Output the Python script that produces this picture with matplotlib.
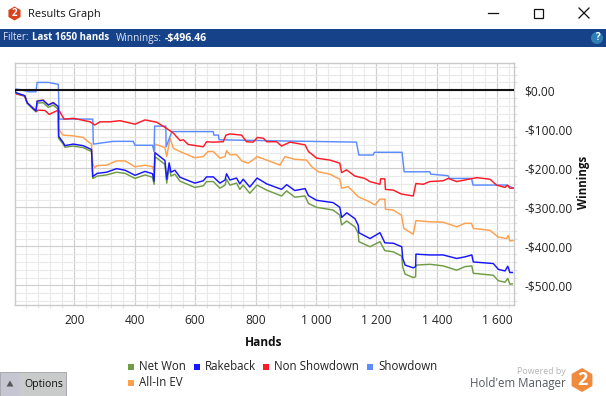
import matplotlib
matplotlib.use("Agg")
import matplotlib.pyplot as plt
import numpy as np
from matplotlib.patches import Rectangle, RegularPolygon, Circle
from matplotlib.ticker import MultipleLocator, FuncFormatter

net_x = [1,9,36,44,64,73,77,97,114,130,147,148,163,169,196,229,257,261,276,307,340,368,401,434,459,464,467,500,506,514,520,533,550,599,627,638,660,682,699,704,715,737,748,759,781,805,837,886,903,930,964,975,1002,1057,1079,1085,1102,1129,1140,1142,1179,1212,1228,1256,1284,1287,1295,1322,1330,1331,1377,1421,1466,1493,1516,1521,1587,1604,1626,1635,1642,1650]
net_y = [-1,-8,-15,-33,-49,-55,-33,-32,-44,-38,-49,-123,-138,-146,-143,-147,-157,-226,-220,-217,-210,-213,-226,-217,-223,-241,-170,-190,-238,-197,-220,-215,-233,-249,-245,-234,-234,-251,-243,-228,-243,-238,-254,-243,-264,-243,-256,-271,-258,-274,-271,-290,-300,-307,-320,-345,-335,-350,-367,-388,-401,-388,-411,-414,-425,-452,-471,-480,-478,-448,-446,-450,-461,-452,-450,-469,-474,-488,-492,-482,-497,-496]
rake_y = [-1,-7,-14,-32,-47,-53,-28,-26,-38,-32,-42,-118,-134,-142,-138,-142,-152,-221,-213,-210,-201,-205,-218,-208,-214,-233,-160,-180,-228,-186,-210,-205,-223,-238,-232,-222,-222,-238,-230,-214,-230,-225,-240,-228,-248,-225,-240,-254,-242,-257,-252,-270,-282,-288,-300,-326,-314,-329,-346,-365,-380,-365,-391,-392,-401,-430,-448,-455,-452,-420,-422,-422,-431,-427,-422,-440,-444,-459,-463,-451,-467,-467]

ev_x = [1,9,36,44,64,73,77,97,114,130,147,148,163,197,230,241,257,261,268,276,307,340,368,401,434,459,464,467,500,506,517,528,550,599,627,643,660,682,699,704,715,737,754,776,806,837,881,897,930,969,986,1008,1046,1079,1085,1107,1140,1178,1195,1212,1228,1230,1256,1283,1291,1322,1331,1377,1421,1466,1493,1515,1521,1576,1603,1631,1637,1642,1653]
ev_y = [-1,-8,-14,-32,-47,-53,-27,-24,-37,-31,-42,-100,-115,-117,-121,-129,-138,-189,-198,-193,-192,-181,-181,-196,-192,-196,-209,-138,-147,-170,-123,-149,-157,-173,-170,-157,-157,-174,-170,-155,-165,-165,-181,-187,-170,-179,-192,-170,-177,-179,-196,-209,-215,-228,-251,-247,-273,-286,-294,-279,-279,-305,-307,-320,-354,-369,-334,-337,-338,-350,-341,-341,-354,-359,-376,-380,-372,-386,-385]

nsd_x = [1,9,36,44,64,73,81,103,117,130,147,152,166,197,235,252,268,285,318,351,401,434,473,500,528,550,561,577,627,638,660,693,702,715,754,770,792,806,826,837,870,886,914,964,975,1002,1046,1079,1085,1101,1129,1162,1178,1212,1214,1228,1230,1256,1283,1322,1331,1355,1377,1421,1438,1466,1493,1532,1576,1598,1626,1634,1642,1653]
nsd_y = [-1,-10,-15,-33,-46,-55,-51,-52,-62,-57,-51,-55,-74,-72,-78,-81,-89,-81,-81,-78,-87,-76,-82,-95,-110,-129,-127,-139,-145,-132,-133,-132,-115,-112,-115,-132,-133,-121,-123,-132,-132,-143,-133,-140,-157,-174,-179,-187,-211,-204,-220,-226,-234,-241,-227,-227,-254,-256,-266,-271,-239,-241,-234,-232,-226,-234,-230,-224,-228,-243,-249,-243,-251,-251]

sd_x = [1,7,25,48,73,77,114,147,150,261,263,329,395,401,459,464,466,503,504,523,660,662,677,679,892,1056,1134,1142,1189,1194,1285,1292,1377,1380,1437,1443,1515,1520,1630,1655]
sd_y = [1,3,1,-4,-4,20,20,15,-74,-74,-138,-131,-131,-141,-141,-157,-92,-92,-145,-106,-106,-115,-115,-127,-130,-132,-133,-166,-166,-159,-159,-209,-209,-215,-219,-226,-226,-243,-243,-251]

legend_labels = ["Net Won", "Rakeback", "Non Showdown", "Showdown", "All-In EV"]
colors = ["#6f9c45", "#1616ff", "#ff1a26", "#5a8cff", "#ffa04d"]
y_ticks = [0, -100, -200, -300, -400, -500]
x_ticks = [200, 400, 600, 800, 1000, 1200, 1400, 1600]

plt.rcParams['font.family'] = ['Open Sans', 'DejaVu Sans']
W, H = 606, 396
fig = plt.figure(figsize=(W/100, H/100), dpi=100)
ax = fig.add_axes([14.5/W, 1-305.3/H, 499/W, 242.8/H])
ax.set_xlim(2, 1654)
ax.set_ylim(-551, 71)

ax.xaxis.set_major_locator(MultipleLocator(200))
ax.xaxis.set_minor_locator(MultipleLocator(40))
ax.yaxis.set_major_locator(MultipleLocator(100))
ax.yaxis.set_minor_locator(MultipleLocator(20))
ax.grid(which='major', color='#cfcfcf', lw=0.85)
ax.grid(which='minor', color='#e9e9e9', lw=0.85)
ax.set_axisbelow(True)
for s in ax.spines.values():
    s.set_color('#cacaca'); s.set_linewidth(1.0)
ax.yaxis.tick_right()
ax.tick_params(which='major', length=0)
ax.tick_params(which='minor', length=2.5, color='#e0e0e0', width=0.85)
ax.tick_params(axis='y', which='major', pad=8, labelsize=8.6, labelcolor='#222222')
ax.tick_params(axis='x', which='major', pad=6.5, labelsize=8.6, labelcolor='#222222')
ax.xaxis.set_major_formatter(FuncFormatter(lambda v, p: f"{int(v):,}".replace(",", " ")))
ax.yaxis.set_major_formatter(FuncFormatter(lambda v, p: f"-${abs(v):.2f}" if v < 0 else f"${abs(v):.2f}"))
ax.set_yticks(y_ticks)
ax.set_xticks(x_ticks)
for t in ax.get_yticklabels():
    t.set_va('center_baseline')

lw = 1.05
ax.plot(net_x, net_y, color=colors[0], lw=lw, zorder=3)
ax.plot(net_x, rake_y, color=colors[1], lw=lw, zorder=4)
ax.plot(ev_x, ev_y, color=colors[4], lw=lw, zorder=2.5)
ax.plot(sd_x, sd_y, color=colors[3], lw=lw, zorder=2.6)
ax.plot(nsd_x, nsd_y, color=colors[2], lw=lw, zorder=2.8)
ax.axhline(0, color='#111111', lw=1.5, zorder=5)

# Window chrome, legend and captions in pixel coordinates
ov = fig.add_axes([0, 0, 1, 1], facecolor='none')
ov.set_xlim(0, W); ov.set_ylim(H, 0); ov.axis('off')
ov.add_patch(Rectangle((0, 29), W, 18, color='#16428a', lw=0))
ov.add_patch(RegularPolygon((14.5, 13.5), 6, radius=7, color='#d8431f', lw=0))
ov.text(14.5, 13.7, "2", color='white', fontsize=7, fontweight='bold', ha='center', va='center')
ov.text(28, 14, "Results Graph", fontsize=7.9, color='#111111', va='center')
ov.plot([488, 498], [13, 13], color='#111111', lw=0.9)
ov.add_patch(Rectangle((533.5, 8.5), 9, 9, fill=False, ec='#111111', lw=0.9))
ov.plot([579, 589], [8, 18], color='#111111', lw=0.9)
ov.plot([579, 589], [18, 8], color='#111111', lw=0.9)
ov.add_patch(Circle((597, 38), 6, color='#2f7fb5', lw=0))
ov.text(597, 38, "?", color='white', fontsize=7, fontweight='bold', ha='center', va='center')
for x, s, b, fs in [(3, "Filter:", False, 6.9), (32.5, "Last 1650 hands", True, 7.0),
                    (115.5, "Winnings:", False, 7.2), (164.5, "-$496.46", True, 7.6)]:
    ov.text(x, 38, s, color='white' if b else '#dfe6f2', fontsize=fs,
            fontweight='bold' if b else 'normal', va='center')

ov.text(264, 342, "Hands", fontsize=8.6, fontweight='bold', color='#111111', ha='center', va='center')
ov.text(584, 182.5, "Winnings", fontsize=8.3, fontweight='bold', color='#111111', rotation=90, ha='center', va='center')

legend_pos = [(131, 367), (197, 367), (266, 367), (370, 367), (131, 383)]
for (x, y), c, s in zip(legend_pos, colors, legend_labels):
    ov.add_patch(Rectangle((x-3, y-3), 6, 6, color=c, lw=0))
    ov.text(x+8, y, s, fontsize=8.3, color='#222222', va='center')

ov.add_patch(Rectangle((0, 372), 67, 24, color='#a9abb0', lw=0))
ov.add_patch(Rectangle((1, 373), 18, 23, color='#c6c6d2', lw=0))
ov.add_patch(Rectangle((19, 373), 47, 23, color='#c9cbca', lw=0))
ov.add_patch(RegularPolygon((10, 384.5), 3, radius=4, orientation=np.pi, color='#555555', lw=0))
ov.text(24, 385, "Options", fontsize=7.6, color='#111111', va='center')

ov.text(566, 372, "Powered by", fontsize=6.4, color='#b5b5b5', ha='right', va='center')
ov.text(566, 384, "Hold'em Manager", fontsize=8.3, color='#555a60', ha='right', va='center')
ov.add_patch(RegularPolygon((582, 380), 6, radius=12, color='#f08a3c', lw=0))
ov.text(582, 380, "2", color='white', fontsize=13, fontweight='bold', ha='center', va='center')

fig.savefig("out.png", dpi=100)
